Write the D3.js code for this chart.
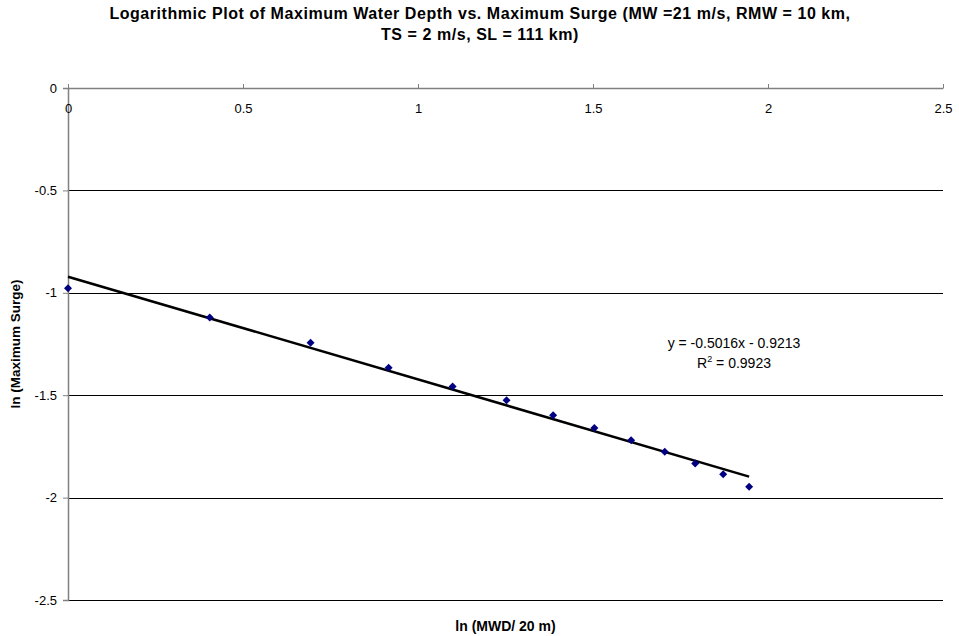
<!DOCTYPE html>
<html>
<head>
<meta charset="utf-8">
<script src="https://cdn.jsdelivr.net/npm/d3@7"></script>
<style>
  html, body { margin: 0; padding: 0; background: #fff; }
  svg { display: block; font-family: "Liberation Sans", Arial, sans-serif; }
</style>
</head>
<body>
<svg id="chart" width="959" height="636"></svg>
<script>
// ln(MWD / 20 m) for each run and ln(maximum surge) measured
const lnDepth = [0, 0.405, 0.693, 0.916, 1.099, 1.253, 1.386, 1.504, 1.609, 1.705, 1.792, 1.872, 1.946];
const lnSurge = [-0.978, -1.120, -1.244, -1.366, -1.458, -1.525, -1.598, -1.660, -1.720, -1.776, -1.833, -1.886, -1.947];

// Linear trendline fitted in log space
const slope = -0.5016;
const intercept = -0.9213;
const rSquared = 0.9923;

const xTicks = [0, 0.5, 1, 1.5, 2, 2.5];
const yTicks = [0, -0.5, -1, -1.5, -2, -2.5];

const titleLines = [
  "Logarithmic Plot of Maximum Water Depth vs. Maximum Surge (MW =21 m/s, RMW = 10 km,",
  "TS = 2 m/s, SL = 111 km)"
];
const xTitle = "ln (MWD/ 20 m)";
const yTitle = "ln (Maximum Surge)";

const svg = d3.select("#chart");
const plot = { left: 68, right: 943, top: 88, bottom: 600 };

const x = d3.scaleLinear().domain([0, 2.5]).range([plot.left, plot.right]);
const y = d3.scaleLinear().domain([-2.5, 0]).range([plot.bottom, plot.top]);

// Plain hyphen for negatives, as in the spreadsheet output
const fmt = d => String(d);

// Title
svg.append("g").selectAll("text").data(titleLines).join("text")
  .attr("x", 480).attr("y", (d, i) => 19 + i * 21)
  .attr("text-anchor", "middle")
  .attr("font-size", 16).attr("font-weight", "bold")
  .attr("letter-spacing", 0.55)
  .text(d => d);

// Horizontal gridlines
svg.append("g").selectAll("line").data(yTicks.filter(v => v !== 0)).join("line")
  .attr("x1", plot.left).attr("x2", plot.right)
  .attr("y1", d => Math.round(y(d)) + 0.5).attr("y2", d => Math.round(y(d)) + 0.5)
  .attr("stroke", "#000").attr("stroke-width", 1);

// Y axis on the left
const yAxis = svg.append("g")
  .attr("transform", `translate(${plot.left},0)`)
  .call(d3.axisLeft(y).tickValues(yTicks).tickSize(5).tickPadding(6).tickFormat(fmt));
yAxis.select(".domain").attr("stroke", "#808080").attr("stroke-width", 1.5);
yAxis.selectAll(".tick line").attr("stroke", "#808080");
yAxis.selectAll("text").attr("font-size", 13).attr("fill", "#000")
  .attr("font-family", "Liberation Sans, Arial, sans-serif");

// X axis along y = 0 with labels beneath the line
const xAxis = svg.append("g")
  .attr("transform", `translate(0,${y(0)})`)
  .call(d3.axisBottom(x).tickValues(xTicks).tickSizeInner(-4).tickSizeOuter(0).tickPadding(16).tickFormat(fmt));
xAxis.select(".domain").attr("stroke", "#808080").attr("stroke-width", 1.5);
xAxis.selectAll(".tick line").attr("stroke", "#808080");
xAxis.selectAll("text").attr("font-size", 13).attr("fill", "#000")
  .attr("font-family", "Liberation Sans, Arial, sans-serif");

// Trendline over the data range
const xExtent = d3.extent(lnDepth);
svg.append("line")
  .attr("x1", x(xExtent[0])).attr("y1", y(slope * xExtent[0] + intercept))
  .attr("x2", x(xExtent[1])).attr("y2", y(slope * xExtent[1] + intercept))
  .attr("stroke", "#000").attr("stroke-width", 2.5);

// Data markers (diamonds)
const diamond = d3.symbol().type(d3.symbolSquare).size(32);
svg.append("g").selectAll("path").data(lnDepth.map((v, i) => [v, lnSurge[i]])).join("path")
  .attr("d", diamond)
  .attr("transform", d => `translate(${x(d[0])},${y(d[1])}) rotate(45)`)
  .attr("fill", "#000080");

// Trendline equation
const eq = svg.append("g").attr("font-size", 14).attr("text-anchor", "middle");
eq.append("text").attr("x", 734).attr("y", 348)
  .text(`y = ${slope}x - ${Math.abs(intercept)}`);
const r2 = eq.append("text").attr("x", 734).attr("y", 368);
r2.append("tspan").text("R");
r2.append("tspan").attr("font-size", 9).attr("dy", -6).text("2");
r2.append("tspan").attr("dy", 6).text(` = ${rSquared}`);

// Axis titles
svg.append("text")
  .attr("x", (plot.left + plot.right) / 2).attr("y", 631)
  .attr("text-anchor", "middle").attr("font-size", 14).attr("font-weight", "bold")
  .text(xTitle);
svg.append("text")
  .attr("transform", `translate(20,${(plot.top + plot.bottom) / 2}) rotate(-90)`)
  .attr("text-anchor", "middle").attr("font-size", 13.5).attr("font-weight", "bold")
  .text(yTitle);
</script>
</body>
</html>
